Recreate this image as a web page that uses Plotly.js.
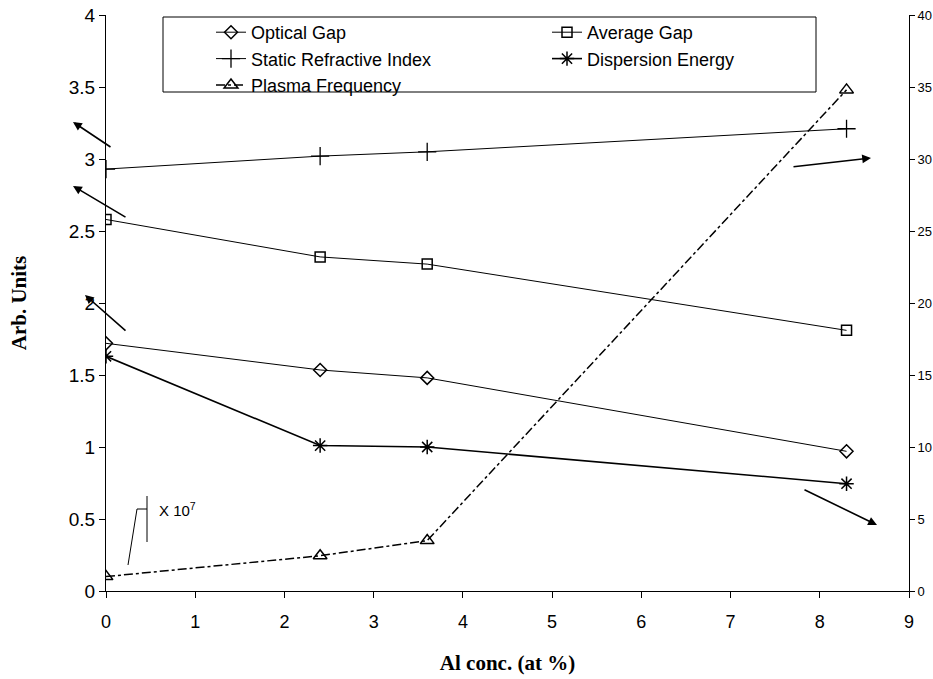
<!DOCTYPE html>
<html>
<head>
<meta charset="utf-8">
<script src="https://cdn.plot.ly/plotly-3.0.1.min.js"></script>
<style>html,body{margin:0;padding:0;background:#fff;}#chart{width:933px;height:679px;}</style>
</head>
<body>
<div id="chart"></div>
<script>
// ---- data ----
const alConc = [0, 2.4, 3.6, 8.3];
const opticalGap = [1.72, 1.535, 1.48, 0.97];
const averageGap = [2.58, 2.32, 2.27, 1.81];
const staticRefractiveIndex = [2.93, 3.02, 3.05, 3.21];
const dispersionEnergy = [1.63, 1.01, 1.0, 0.745];
const plasmaFrequency = [1.0, 2.45, 3.5, 34.8];   // x 10^7, right axis
const seriesNames = ['Optical Gap', 'Average Gap', 'Static Refractive Index', 'Dispersion Energy', 'Plasma Frequency'];
const leftTicks = [0, 0.5, 1, 1.5, 2, 2.5, 3, 3.5, 4];
const rightTicks = [0, 5, 10, 15, 20, 25, 30, 35, 40];
const xTicks = [0, 1, 2, 3, 4, 5, 6, 7, 8, 9];

const K = 'black';
const traces = [
  {x: alConc, y: opticalGap, name: seriesNames[0], mode: 'lines+markers',
   line: {color: K, width: 1}, marker: {symbol: 'diamond-open', size: 10, color: K, line: {width: 1.5}}},
  {x: alConc, y: averageGap, name: seriesNames[1], mode: 'lines+markers',
   line: {color: K, width: 1}, marker: {symbol: 'square-open', size: 10, color: K, line: {width: 1.5}}},
  {x: alConc, y: staticRefractiveIndex, name: seriesNames[2], mode: 'lines+markers',
   line: {color: K, width: 1}, marker: {symbol: 'cross-thin-open', size: 13, color: K, line: {width: 1.3, color: K}}},
  {x: alConc, y: dispersionEnergy, name: seriesNames[3], mode: 'lines+markers',
   line: {color: K, width: 1.6}, marker: {symbol: 'asterisk-open', size: 12, color: K, line: {width: 1.5, color: K}}},
  {x: alConc, y: plasmaFrequency, name: seriesNames[4], mode: 'lines+markers', yaxis: 'y2',
   line: {color: K, width: 1.5, dash: 'dashdot'}, marker: {symbol: 'triangle-up-open', size: 12, color: K, line: {width: 1.5}}}
];

// paper helpers for decorations (plot area: 106..909 x 15..591)
const L = 106, R = 909, T = 15, B = 591;
const px = v => (v - L) / (R - L);
const py = v => (B - v) / (B - T);

const arrowDefs = [
  [73, 122, 112, 148],
  [73, 186, 127, 218],
  [85, 295, 127, 332],
  [871, 158, 792, 167],
  [877, 525, 803, 489]
];
const annotations = arrowDefs.map(a => ({
  xref: 'paper', yref: 'paper', x: px(a[0]), y: py(a[1]),
  ax: a[2] - a[0], ay: a[3] - a[1], text: '', showarrow: true,
  arrowhead: 2, arrowsize: 1.1, arrowwidth: 1.6, arrowcolor: K, standoff: 0
}));
annotations.push({
  xref: 'paper', yref: 'paper', x: px(157), y: py(509), xanchor: 'left', yanchor: 'middle',
  text: 'X 10<sup>7</sup>', showarrow: false, font: {family: 'Liberation Sans, Arial', size: 15, color: K}
});

const shapes = [
  {type: 'path', xref: 'paper', yref: 'paper',
   path: `M ${px(128)} ${py(565)} L ${px(137)} ${py(509)} L ${px(147)} ${py(509)}`,
   line: {color: K, width: 1}},
  {type: 'line', xref: 'paper', yref: 'paper', x0: px(147), x1: px(147), y0: py(496), y1: py(542),
   line: {color: K, width: 1}},
  {type: 'rect', xref: 'paper', yref: 'paper', x0: px(163), x1: px(816), y0: py(17), y1: py(92),
   line: {color: K, width: 1}, fillcolor: 'rgba(0,0,0,0)'}
];

const layout = {
  width: 933, height: 679,
  margin: {l: L, r: 933 - R, t: T, b: 679 - B},
  paper_bgcolor: 'white', plot_bgcolor: 'white',
  font: {family: 'Liberation Sans, Arial', color: K},
  showlegend: true,
  legend: {orientation: 'h', x: px(211), y: py(14), xanchor: 'left', yanchor: 'top',
           entrywidth: 291, entrywidthmode: 'pixels', bgcolor: 'rgba(0,0,0,0)', borderwidth: 0,
           font: {size: 18, family: 'Liberation Sans, Arial', color: K}, tracegroupgap: 0},
  xaxis: {range: [0, 9], tickvals: xTicks, ticktext: xTicks.map(String), ticks: 'outside', ticklen: 6,
          tickcolor: K, showline: true, linecolor: K, linewidth: 1, showgrid: false, zeroline: false,
          ticklabelstandoff: 8,
          tickfont: {size: 18}, title: {text: 'Al conc. (at %)', font: {family: 'Liberation Serif, Times New Roman', size: 21, weight: 'bold'}, standoff: 24}},
  yaxis: {range: [0, 4], tickvals: leftTicks, ticktext: leftTicks.map(String), ticks: 'outside', ticklen: 6,
          tickcolor: K, showline: true, linecolor: K, linewidth: 1, showgrid: false, zeroline: false,
          tickfont: {size: 19}, title: {text: 'Arb. Units', font: {family: 'Liberation Serif, Times New Roman', size: 21, weight: 'bold'}, standoff: 36}},
  yaxis2: {range: [0, 40], tickvals: rightTicks, ticktext: rightTicks.map(String), overlaying: 'y', side: 'right',
           ticks: 'outside', ticklen: 5, tickcolor: K, showline: true, linecolor: K, linewidth: 1,
           showgrid: false, zeroline: false, tickfont: {size: 13}},
  yaxis3: {range: [0, 40], tickvals: rightTicks, overlaying: 'y', side: 'right', showticklabels: false,
           ticks: 'inside', ticklen: 5, tickcolor: K, showline: false, showgrid: false, zeroline: false},
  annotations: annotations,
  shapes: shapes
};

Plotly.newPlot('chart', traces, layout, {displayModeBar: false, staticPlot: true});
</script>
</body>
</html>
